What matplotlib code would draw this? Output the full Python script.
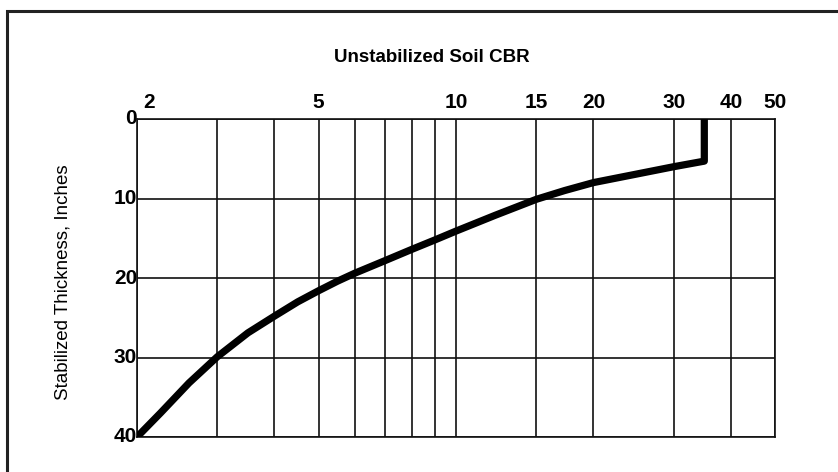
import numpy as np
import matplotlib
matplotlib.use("Agg")
import matplotlib.pyplot as plt
from matplotlib.patches import Rectangle
from matplotlib.transforms import ScaledTranslation

# design curve: stabilized thickness vs unstabilized soil CBR
cbr = [2, 2.25, 2.6, 3, 3.5, 4, 4.5, 5, 5.5, 6, 7, 8, 9, 10, 12.2, 15, 17.3, 20,
       24.5, 30, 35, 35]
thickness = [40, 37, 33.2, 29.9, 26.9, 24.8, 23.0, 21.6, 20.4, 19.4, 17.8, 16.4, 15.2,
             14.1, 12.1, 10.1, 9.0, 8.0, 7.0, 6.0, 5.3, 0]

grid_x = [2, 3, 4, 5, 6, 7, 8, 9, 10, 15, 20, 30, 40, 50]
label_x = [2, 5, 10, 15, 20, 30, 40, 50]
grid_y = [0, 10, 20, 30, 40]

plt.rcParams['font.family'] = ['Liberation Sans', 'DejaVu Sans']

fig = plt.figure(figsize=(8.38, 4.72), dpi=100)
# outer frame (runs off the right and bottom edges)
fig.patches.append(Rectangle((7 / 838, -0.1), 1.2, 1.1 - 11 / 472,
                             transform=fig.transFigure, fill=False,
                             edgecolor='#222222', linewidth=2.2))

ax = fig.add_axes([137 / 838, 1 - 437 / 472, 638 / 838, 318 / 472])
ax.set_xscale('log')
ax.set_xlim(2, 50)
ax.set_ylim(40, 0)

for x in grid_x:
    ax.axvline(x, color='#111111', lw=1.2, zorder=1)
for y in grid_y:
    ax.axhline(y, color='#111111', lw=1.2, zorder=1)

ax.plot(cbr, thickness, color='black', lw=5.2, solid_joinstyle='round',
        solid_capstyle='butt', zorder=3)

for s in ax.spines.values():
    s.set_linewidth(1.2)
    s.set_color('#111111')

ax.xaxis.tick_top()
ax.xaxis.set_minor_locator(matplotlib.ticker.NullLocator())
ax.set_xticks(label_x)
ax.set_xticklabels([str(v) for v in label_x], fontsize=15, fontweight='bold')
ax.tick_params(axis='x', length=0, pad=5)
first = ax.get_xticklabels()[0]
first.set_transform(first.get_transform() + ScaledTranslation(0.12, 0, fig.dpi_scale_trans))

ax.set_yticks(grid_y)
ax.set_yticklabels([str(v) for v in grid_y], fontsize=15, fontweight='bold')
ax.tick_params(axis='y', length=0, pad=0)
for lab in ax.get_yticklabels():
    lab.set_transform(lab.get_transform() + ScaledTranslation(0, 0.02, fig.dpi_scale_trans))

fig.text(432 / 838, 1 - 58 / 472, 'Unstabilized Soil CBR', ha='center', va='center',
         fontsize=13.5, fontweight='bold')
fig.text(63 / 838, 1 - 282 / 472, 'Stabilized Thickness, Inches', ha='center',
         va='center', rotation=90, fontsize=13.5)

fig.savefig('out.png', dpi=100)
